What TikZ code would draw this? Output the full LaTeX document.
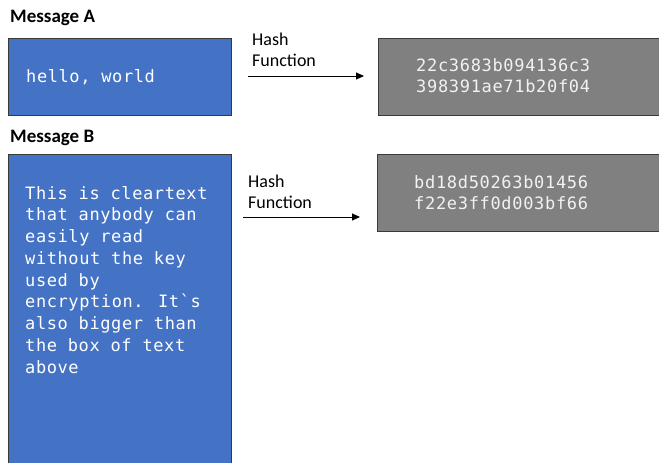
\documentclass[tikz,border=0pt]{standalone}
\usepackage{fontspec}
\setmainfont{Carlito}
\newfontfamily\codefont[LetterSpace=3.5]{DejaVu Sans Mono}
\newfontfamily\hashfont[LetterSpace=4]{DejaVu Sans Mono}
\usetikzlibrary{arrows.meta}
\definecolor{msgblue}{HTML}{4472C4}
\definecolor{hashgray}{HTML}{808080}
\definecolor{edgegray}{HTML}{3A3A3A}
\tikzset{
  msgbox/.style={draw=edgegray, line width=1pt, fill=msgblue},
  hashbox/.style={draw=edgegray, line width=1pt, fill=hashgray},
  title/.style={font=\fontsize{19}{22}\selectfont\bfseries, anchor=west, inner sep=0pt},
  fnlabel/.style={font=\fontsize{18}{21}\selectfont, align=left, anchor=north west, inner sep=0pt},
  codetext/.style={font=\codefont\fontsize{17}{21.75}\selectfont, text=white, align=left, anchor=north west, inner sep=0pt},
  hashtext/.style={font=\hashfont\fontsize{17}{21}\selectfont, text=white!95!black, align=left, anchor=north west, inner sep=0pt},
  flow/.style={line width=1pt, -{Triangle[length=8pt,width=7pt]}}
}
\begin{document}
\begin{tikzpicture}[x=1pt,y=-1pt]
\useasboundingbox (0,0) rectangle (659,463);
\clip (0,0) rectangle (659,463);
\fill[white] (0,0) rectangle (659,463);
% Message A
\node[title] (titleA) at (10,18) {Message A};
\node[msgbox, minimum width=223pt, minimum height=77pt, anchor=north west, inner sep=0pt] (boxA) at (8,38) {};
\node[codetext, anchor=west] (txtA) at (26,77) {hello, world};
\node[hashbox, minimum width=300pt, minimum height=77pt, anchor=north west, inner sep=0pt] (hashA) at (378,38) {};
\node[hashtext] (hA) at (416,58) {22c3683b094136c3\\398391ae71b20f04};
\node[fnlabel] (fnA) at (252,33) {Hash\\Function};
\coordinate (aAs) at (248,76);
\coordinate (aAe) at (364,76);
\draw[flow] (aAs) -- (aAe);
% Message B
\node[title] (titleB) at (10,138) {Message B};
\node[msgbox, minimum width=223pt, minimum height=330pt, anchor=north west, inner sep=0pt] (boxB) at (8,154) {};
\node[codetext] (txtB) at (25,186) {This is cleartext\\that anybody can\\easily read\\without the key\\used by\\encryption. It`s\\also bigger than\\the box of text\\above};
\node[hashbox, minimum width=300pt, minimum height=77pt, anchor=north west, inner sep=0pt] (hashB) at (377,154) {};
\node[hashtext] (hB) at (414,175) {bd18d50263b01456\\f22e3ff0d003bf66};
\node[fnlabel] (fnB) at (248,175) {Hash\\Function};
\coordinate (aBs) at (243,217);
\coordinate (aBe) at (360,217);
\draw[flow] (aBs) -- (aBe);
\end{tikzpicture}
\end{document}
